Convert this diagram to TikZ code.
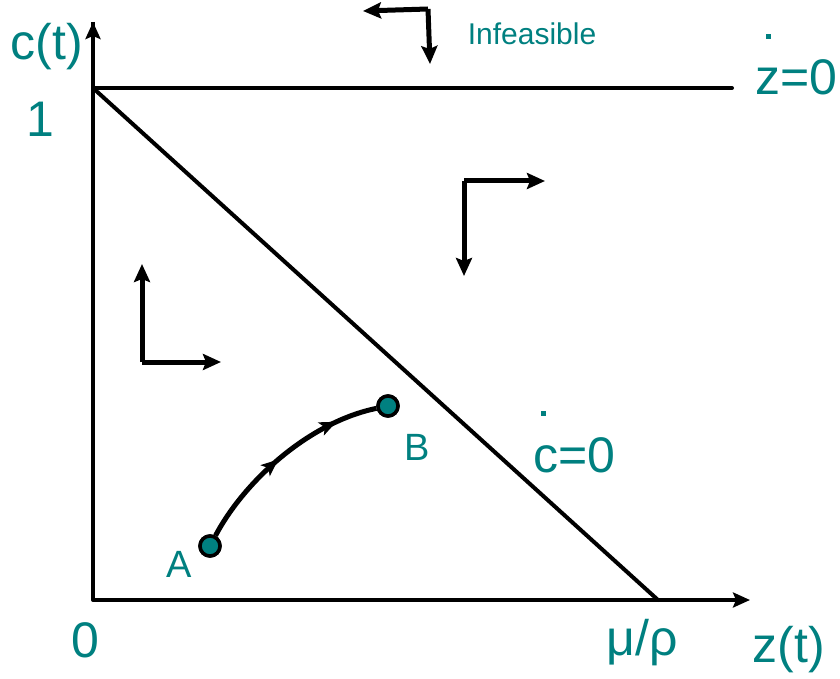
\documentclass[tikz,border=0pt]{standalone}
\usepackage{fontspec}
\setmainfont{Liberation Sans}
\usetikzlibrary{arrows.meta,decorations.markings}
\definecolor{tl}{RGB}{0,128,128}
\begin{document}
\begin{tikzpicture}[x=1pt,y=-1pt,
  axis/.style={line width=4pt,-{Stealth[length=17pt,width=15pt,inset=3pt]}},
  plainline/.style={line width=4pt, line cap=round},
  dirarrow/.style={line width=5pt,line join=round,-{Stealth[length=18pt,width=16pt,inset=3pt]}},
  biglab/.style={text=tl,font=\fontsize{50}{56}\selectfont,anchor=base,inner sep=0pt},
  smalllab/.style={text=tl,font=\fontsize{30}{34}\selectfont,anchor=base,inner sep=0pt},
  ablab/.style={text=tl,font=\fontsize{38}{44}\selectfont,anchor=base,inner sep=0pt},
  pt/.style={circle,draw=black,line width=3.5pt,fill=tl,minimum size=20pt,inner sep=0pt},
  dotmark/.style={fill=tl,minimum size=5pt,inner sep=0pt,rectangle},
  path/.style={line width=5pt,
    decoration={markings,
      mark=at position 0.47 with {\arrow{Stealth[length=17pt,width=14pt,inset=4pt]}},
      mark=at position 0.80 with {\arrow{Stealth[length=17pt,width=14pt,inset=4pt]}}},
    postaction={decorate}}]
\useasboundingbox (0,0) rectangle (840,679);
% axes
\coordinate (Ytop) at (93,22);
\coordinate (Xend) at (750,600);
\coordinate (H1) at (93,88);
\coordinate (Hend) at (732,88);
\coordinate (M) at (658,600);
\draw[plainline] (H1) -- (Hend);
\draw[plainline] (H1) -- (M);
\draw[axis,line join=round] (Ytop) -- (93,600) -- (Xend);
\draw[line width=4pt,-{Stealth[length=17pt,width=15pt,inset=3pt]}] (93,560) -- (Ytop);
% labels
\node[biglab] (ct) at (47,60) {c(t)};
\node[biglab] (one) at (40,137) {1};
\node[biglab] (zero) at (85,657) {0};
\node[biglab] (mr) at (642,655) {μ/ρ};
\node[biglab] (zt) at (789,662) {z(t)};
\node[biglab] (zdot) at (796,95) {z=0};
\node[dotmark] (zd) at (768,37) {};
\node[biglab] (cdot) at (574,472) {c=0};
\node[dotmark] (cd) at (543,413) {};
\node[smalllab] (inf) at (532,45) {Infeasible};
\node[ablab] (Alab) at (179,577) {A};
\node[ablab] (Blab) at (417,460) {B};
% direction arrows
\coordinate (c1) at (428,9);
\coordinate (c1l) at (363,11);
\coordinate (c1d) at (430,64);
\draw[dirarrow] (c1) -- (c1l);
\draw[dirarrow] (c1) -- (c1d);
\coordinate (c2) at (464,181);
\coordinate (c2r) at (545,181);
\coordinate (c2d) at (464,276);
\draw[dirarrow] (c2) -- (c2r);
\draw[dirarrow] (c2) -- (c2d);
\coordinate (c3) at (142,362);
\coordinate (c3u) at (142,264);
\coordinate (c3r) at (221,362);
\draw[dirarrow] (c3) -- (c3u);
\draw[dirarrow] (c3) -- (c3r);
% trajectory
\node[pt] (A) at (210,546) {};
\node[pt] (B) at (388,406) {};
\draw[path] (A) .. controls (245,480) and (310,422) .. (B);
\node[pt] at (A) {};
\node[pt] at (B) {};
\end{tikzpicture}
\end{document}
